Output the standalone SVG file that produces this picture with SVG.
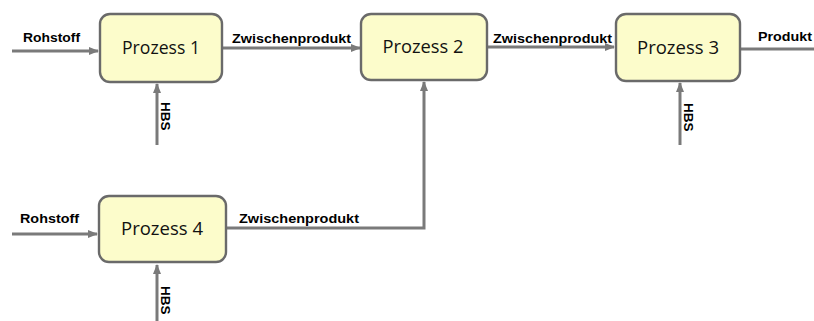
<svg xmlns="http://www.w3.org/2000/svg" width="814" height="321" viewBox="0 0 814 321">
<defs>
<style>
.box{fill:#fcfccb;stroke:#6a6a6a;stroke-width:2.4}
.ptxt{font-family:"Open Sans","Noto Sans",sans-serif;font-size:18px;fill:#111;text-anchor:middle}
.lbl{font-family:"Liberation Sans",Arial,sans-serif;font-size:13.5px;font-weight:bold;fill:#000}
.ln{fill:none;stroke:#7a7a7a;stroke-width:3}
</style>
<marker id="ah" markerUnits="userSpaceOnUse" markerWidth="10" markerHeight="10" viewBox="0 0 10 10" refX="9" refY="5" orient="auto">
<path d="M0,1 L10,5 L0,9 z" fill="#7a7a7a"/>
</marker>
</defs>
<rect width="814" height="321" fill="#fff"/>
<g id="connectors">
<line class="ln" x1="12" y1="51" x2="98" y2="51" marker-end="url(#ah)"/>
<text class="lbl" x="23" y="42" textLength="57" lengthAdjust="spacingAndGlyphs">Rohstoff</text>
<line class="ln" x1="223" y1="48" x2="360" y2="48" marker-end="url(#ah)"/>
<text class="lbl" x="232" y="43" textLength="119" lengthAdjust="spacingAndGlyphs">Zwischenprodukt</text>
<line class="ln" x1="488" y1="47" x2="614" y2="47" marker-end="url(#ah)"/>
<text class="lbl" x="493" y="43" textLength="119" lengthAdjust="spacingAndGlyphs">Zwischenprodukt</text>
<line class="ln" x1="741" y1="49" x2="814" y2="49"/>
<text class="lbl" x="758" y="41" textLength="54" lengthAdjust="spacingAndGlyphs">Produkt</text>
<line class="ln" x1="157" y1="145" x2="157" y2="84" marker-end="url(#ah)"/>
<text class="lbl" transform="translate(161,102) rotate(90)" x="0" y="0">HBS</text>
<line class="ln" x1="680" y1="145" x2="680" y2="83" marker-end="url(#ah)"/>
<text class="lbl" transform="translate(684,103) rotate(90)" x="0" y="0">HBS</text>
<line class="ln" x1="12" y1="234" x2="97" y2="234" marker-end="url(#ah)"/>
<text class="lbl" x="20" y="223" textLength="59" lengthAdjust="spacingAndGlyphs">Rohstoff</text>
<polyline class="ln" points="227,228 424,228 424,82" marker-end="url(#ah)"/>
<text class="lbl" x="239" y="223" textLength="120" lengthAdjust="spacingAndGlyphs">Zwischenprodukt</text>
<line class="ln" x1="157" y1="321" x2="157" y2="265" marker-end="url(#ah)"/>
<text class="lbl" transform="translate(161,286) rotate(90)" x="0" y="0">HBS</text>
</g>
<g id="p1">
<rect class="box" x="100" y="14" width="122" height="68" rx="10"/>
<text class="ptxt" x="161" y="54" textLength="78" lengthAdjust="spacingAndGlyphs">Prozess 1</text>
</g>
<g id="p2">
<rect class="box" x="361" y="14" width="126" height="66" rx="10"/>
<text class="ptxt" x="423" y="53" textLength="81" lengthAdjust="spacingAndGlyphs">Prozess 2</text>
</g>
<g id="p3">
<rect class="box" x="616" y="14" width="124" height="67" rx="10"/>
<text class="ptxt" x="678" y="54" textLength="82" lengthAdjust="spacingAndGlyphs">Prozess 3</text>
</g>
<g id="p4">
<rect class="box" x="99" y="196" width="127" height="66" rx="10"/>
<text class="ptxt" x="162" y="235" textLength="82" lengthAdjust="spacingAndGlyphs">Prozess 4</text>
</g>
</svg>
